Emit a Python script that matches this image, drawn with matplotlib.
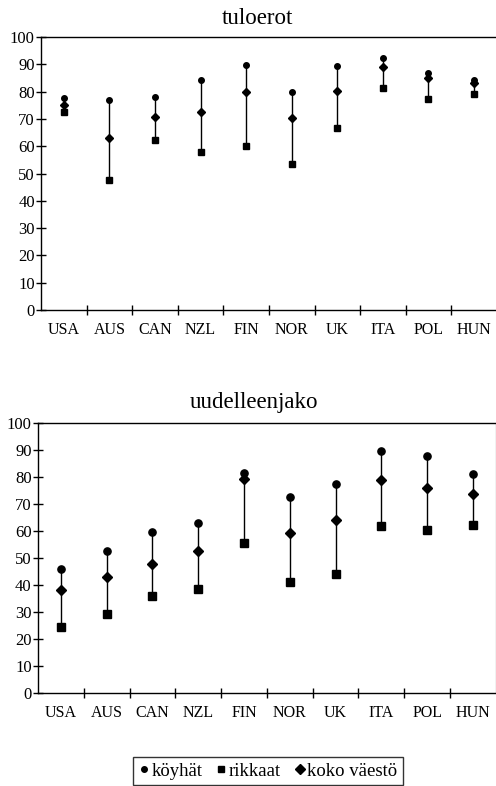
import numpy as np
import matplotlib
matplotlib.use("Agg")
import matplotlib.pyplot as plt
from matplotlib.lines import Line2D

plt.rcParams["font.family"] = ["Liberation Serif", "DejaVu Serif"]

countries = ["USA", "AUS", "CAN", "NZL", "FIN", "NOR", "UK", "ITA", "POL", "HUN"]

# tuloerot
tulo_koyhat  = [77.6, 76.8, 78.0, 84.1, 89.9, 79.7, 89.5, 92.3, 86.8, 84.4]
tulo_rikkaat = [72.4, 47.7, 62.2, 57.9, 60.0, 53.4, 66.6, 81.3, 77.3, 79.0]
tulo_koko    = [75.2, 63.1, 70.7, 72.7, 79.7, 70.3, 80.4, 89.2, 85.0, 83.1]

# uudelleenjako
uud_koyhat  = [45.9, 52.6, 59.7, 62.8, 81.5, 72.6, 77.2, 89.5, 87.7, 80.9]
uud_rikkaat = [24.3, 29.2, 35.9, 38.5, 55.6, 40.9, 43.9, 61.9, 60.2, 62.0]
uud_koko    = [38.1, 42.8, 47.6, 52.4, 79.3, 59.2, 64.1, 78.9, 76.0, 73.7]

fig = plt.figure(figsize=(4.96, 7.86), dpi=100)
ax1 = fig.add_axes([0.0827, 0.6056, 0.919, 0.3473])
ax2 = fig.add_axes([0.0766, 0.1187, 0.923, 0.3435])


def panel(ax, koyhat, rikkaat, koko, msz, right_spine):
    x = np.arange(len(countries))
    ax.vlines(x, rikkaat, koyhat, color="black", lw=1.0)
    ax.plot(x, koyhat, "o", color="black", ms=msz * 0.8, ls="none")
    ax.plot(x, rikkaat, "s", color="black", ms=msz * 0.8, ls="none")
    ax.plot(x, koko, "D", color="black", ms=msz * 0.85, ls="none")
    ax.set_xlim(-0.5, len(countries) - 0.5)
    ax.set_ylim(0, 100)
    ax.set_yticks(np.arange(0, 101, 10))
    ax.set_xticks(x)
    ax.set_xticklabels(countries)
    ax.set_xticks(np.arange(0.5, len(countries) - 0.5, 1), minor=True)
    ax.tick_params(axis="x", which="major", length=0, pad=9, labelsize=11.5)
    ax.tick_params(axis="x", which="minor", direction="inout", length=7, width=1)
    ax.tick_params(axis="y", direction="inout", length=7, width=1, pad=1, labelsize=12)
    for s in ["left", "bottom", "top"]:
        ax.spines[s].set_linewidth(1.0)
    ax.spines["right"].set_visible(right_spine)


panel(ax1, tulo_koyhat, tulo_rikkaat, tulo_koko, 5, False)
panel(ax2, uud_koyhat, uud_rikkaat, uud_koko, 6.5, True)

fig.text(0.52, 0.976, "tuloerot", ha="center", va="center", fontsize=16.5)
fig.text(0.512, 0.488, "uudelleenjako", ha="center", va="center", fontsize=16.5)

handles = [
    Line2D([], [], marker="o", color="black", ls="none", ms=4),
    Line2D([], [], marker="s", color="black", ls="none", ms=5),
    Line2D([], [], marker="D", color="black", ls="none", ms=5),
]
leg = fig.legend(handles, ["köyhät", "rikkaat", "koko väestö"], loc="center",
                 bbox_to_anchor=(0.54, 0.019), ncol=3, frameon=True, fancybox=False,
                 edgecolor="black", fontsize=13.5, handlelength=0.6,
                 handletextpad=0.1, columnspacing=0.7, borderpad=0.3,
                 borderaxespad=0)
leg.get_frame().set_linewidth(1.0)

fig.savefig("out.png", dpi=100)
